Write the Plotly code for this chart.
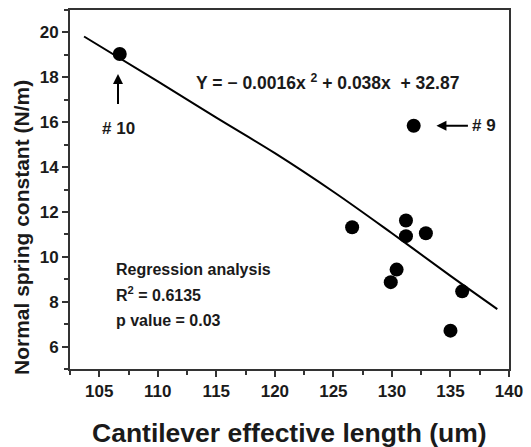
import plotly.graph_objects as go

# data points
length_um = [106.75, 131.86, 126.6, 131.2, 131.2, 132.9, 130.4, 129.9, 136.0, 135.0]
spring_k = [19.04, 15.84, 11.32, 11.62, 10.92, 11.05, 9.43, 8.87, 8.46, 6.71]

# fitted curve
fit_x = [103.7, 110, 115, 120, 125, 130, 135, 139]
fit_y = [19.82, 17.82, 16.2, 14.62, 12.9, 11.05, 9.15, 7.67]

x_ticks = [105, 110, 115, 120, 125, 130, 135, 140]
y_ticks = [6, 8, 10, 12, 14, 16, 18, 20]

FONT = "Liberation Sans, Arial, sans-serif"
INK = "#1a1a1a"

fig = go.Figure()
fig.add_trace(go.Scatter(x=fit_x, y=fit_y, mode="lines", line=dict(color="black", width=2, shape="spline"),
                         showlegend=False, hoverinfo="skip"))
fig.add_trace(go.Scatter(x=length_um, y=spring_k, mode="markers",
                         marker=dict(color="black", size=14), showlegend=False))

ann_font = dict(family=FONT, size=17, color=INK)
fig.add_annotation(x=113.1, y=17.8, text="<b>Y = − 0.0016x <sup>2</sup> + 0.038x  + 32.87</b>",
                   showarrow=False, xanchor="left", font=dict(family=FONT, size=17.5, color=INK))
# labelled points with arrows
fig.add_annotation(x=106.6, y=18.15, axref="x", ayref="y", ax=106.6, ay=15.7,
                   text="<b># 10</b>", showarrow=True, borderpad=15,
                   arrowhead=2, arrowsize=1, arrowwidth=2, arrowcolor="black", font=ann_font)
fig.add_annotation(x=133.8, y=15.84, axref="x", ayref="y", ax=137.9, ay=15.84,
                   text="<b># 9</b>", showarrow=True, borderpad=4,
                   arrowhead=2, arrowsize=1, arrowwidth=2, arrowcolor="black", font=ann_font)

stat_font = dict(family=FONT, size=16, color=INK)
fig.add_annotation(x=106.3, y=9.45, text="<b>Regression analysis</b>", showarrow=False, xanchor="left", font=stat_font)
fig.add_annotation(x=106.3, y=8.35, text="<b>R<sup>2</sup> = 0.6135</b>", showarrow=False, xanchor="left", font=stat_font)
fig.add_annotation(x=106.3, y=7.15, text="<b>p value = 0.03</b>", showarrow=False, xanchor="left", font=stat_font)

# axis titles
fig.add_annotation(xref="paper", yref="paper", x=0.5, y=-0.177, yanchor="middle", xanchor="center",
                   text="<b>Cantilever effective length (um)</b>", showarrow=False,
                   font=dict(family=FONT, size=26.5, color=INK))
fig.add_annotation(xref="paper", yref="paper", x=-0.112, y=0.395, yanchor="middle", xanchor="center",
                   text="<b>Normal spring constant (N/m)</b>", showarrow=False, textangle=-90,
                   font=dict(family=FONT, size=21, color=INK))

axis_common = dict(showgrid=False, zeroline=False, showline=True, linecolor="#333", linewidth=2,
                   mirror=True, ticks="outside", tickcolor="#333", tickwidth=2, ticklen=6,
                   tickfont=dict(family=FONT, size=17, color=INK))
fig.update_xaxes(range=[102.5, 140], tickvals=x_ticks, ticktext=[f"<b>{v}</b>" for v in x_ticks],
                 minor=dict(dtick=2.5, tick0=102.5, ticks="outside", ticklen=4, tickwidth=2, tickcolor="#333"),
                 **axis_common)
fig.update_yaxes(range=[5, 21], tickvals=y_ticks, ticktext=[f"<b>{v}</b>" for v in y_ticks],
                 minor=dict(dtick=1, tick0=5, ticks="outside", ticklen=4, tickwidth=2, tickcolor="#333"),
                 **axis_common)
fig.update_layout(width=531, height=447, margin=dict(l=70, r=15, t=8, b=78),
                  plot_bgcolor="white", paper_bgcolor="white")
fig.write_html("out.html", config={"displayModeBar": False},
               post_script="document.body.style.margin='0';")
